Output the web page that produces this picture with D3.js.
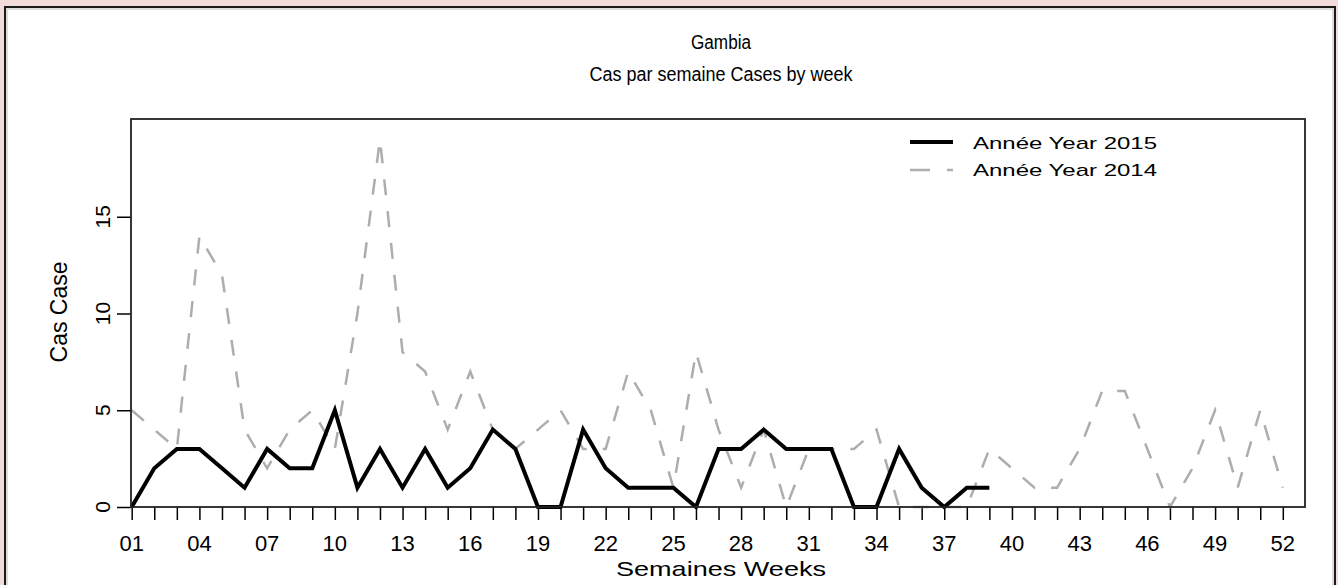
<!DOCTYPE html>
<html>
<head>
<meta charset="utf-8">
<script src="https://cdn.jsdelivr.net/npm/d3@7"></script>
<style>
  html, body { margin: 0; padding: 0; background: #f2dcdb; }
  svg { display: block; }
  text { font-family: "Liberation Sans", Arial, sans-serif; fill: #000; }
</style>
</head>
<body>
<svg id="chart" width="1338" height="585"></svg>
<script>
// ---- data ----
const weeks = [1,2,3,4,5,6,7,8,9,10,11,12,13,14,15,16,17,18,19,20,21,22,23,24,25,26,
               27,28,29,30,31,32,33,34,35,36,37,38,39,40,41,42,43,44,45,46,47,48,49,50,51,52];
const tickWeeks = [1,4,7,10,13,16,19,22,25,28,31,34,37,40,43,46,49,52];
const tickLabels = ["01","04","07","10","13","16","19","22","25","28","31","34","37","40","43","46","49","52"];
const yTicks = [0,5,10,15];
const cases2015 = [0,2,3,3,2,1,3,2,2,5,1,3,1,3,1,2,4,3,0,0,4,2,1,1,1,0,3,3,4,3,3,3,0,0,3,1,0,1,1];
const cases2014 = [5,4,3,14,12,4,2,4,5,3,10,19,8,7,4,7,4,3,4,5,3,3,7,5,1,8,4,1,4,0,3,3,3,4,0,0,0,0,3,2,1,1,3,6,6,3,0,2,5,1,5,1];
const seriesNames = ["Année Year 2015", "Année Year 2014"];
const titleText = "Gambia";
const subtitleText = "Cas par semaine Cases by week";
const xTitle = "Semaines Weeks";
const yTitle = "Cas Case";

// ---- layout ----
const svg = d3.select("#chart");
const box = {left: 131, top: 119, right: 1305, bottom: 507};

// outer white frame
svg.append("rect").attr("x", 5).attr("y", 7).attr("width", 1330).attr("height", 600)
  .attr("fill", "#fff").attr("stroke", "#1a1a1a").attr("stroke-width", 2);
svg.append("rect").attr("x", 7).attr("y", 9).attr("width", 1326).attr("height", 600)
  .attr("fill", "none").attr("stroke", "#bbb").attr("stroke-width", 1);

const x = d3.scaleLinear().domain([1, 52]).range([131.7, 1282.8]);
const y = d3.scaleLinear().domain([0, 20]).range([507, 120]);

// titles
svg.append("text").attr("x", 721).attr("y", 49).attr("text-anchor", "middle")
  .style("font-size", "20px").attr("textLength", 60).attr("lengthAdjust", "spacingAndGlyphs")
  .text(titleText);
svg.append("text").attr("x", 721).attr("y", 81).attr("text-anchor", "middle")
  .style("font-size", "20px").attr("textLength", 263).attr("lengthAdjust", "spacingAndGlyphs")
  .text(subtitleText);

// x axis
const xAxis = d3.axisBottom(x).tickValues(weeks).tickSize(13).tickFormat("");
const gx = svg.append("g").attr("transform", `translate(0,${box.bottom})`).call(xAxis);
gx.select(".domain").remove();
gx.selectAll(".tick line").attr("stroke", "#000").attr("stroke-width", 1.5);
svg.append("g").selectAll("text").data(tickWeeks).join("text")
  .attr("x", (d) => x(d)).attr("y", 551).attr("text-anchor", "middle")
  .style("font-size", "22px").text((d, i) => tickLabels[i]);

// y axis
const yAxis = d3.axisLeft(y).tickValues(yTicks).tickSize(14).tickFormat("");
const gy = svg.append("g").attr("transform", `translate(${box.left},0)`).call(yAxis);
gy.select(".domain").remove();
gy.selectAll(".tick line").attr("stroke", "#000").attr("stroke-width", 1.5);
svg.append("g").selectAll("text").data(yTicks).join("text")
  .attr("transform", (d) => `translate(110,${y(d)}) rotate(-90)`)
  .attr("text-anchor", "middle").style("font-size", "21px").text((d) => d);

// axis titles
svg.append("text").attr("x", 721).attr("y", 576).attr("text-anchor", "middle")
  .style("font-size", "21px").attr("textLength", 210).attr("lengthAdjust", "spacingAndGlyphs")
  .text(xTitle);
svg.append("text").attr("transform", "translate(67,312) rotate(-90)")
  .attr("text-anchor", "middle").style("font-size", "23px").text(yTitle);

// lines
const line = d3.line().x((d, i) => x(weeks[i])).y((d) => y(d));
svg.append("path").datum(cases2014).attr("d", line).attr("fill", "none")
  .attr("stroke", "#adadad").attr("stroke-width", 2.5).attr("stroke-dasharray", "16,16");
svg.append("path").datum(cases2015).attr("d", line).attr("fill", "none")
  .attr("stroke", "#000").attr("stroke-width", 4).attr("stroke-linejoin", "miter");

// plot box
svg.append("rect").attr("x", box.left).attr("y", box.top)
  .attr("width", box.right - box.left).attr("height", box.bottom - box.top)
  .attr("fill", "none").attr("stroke", "#222").attr("stroke-width", 1.8);

// legend
const leg = svg.append("g");
leg.append("line").attr("x1", 910).attr("x2", 953).attr("y1", 142).attr("y2", 142)
  .attr("stroke", "#000").attr("stroke-width", 4);
leg.append("line").attr("x1", 910).attr("x2", 953).attr("y1", 170).attr("y2", 170)
  .attr("stroke", "#adadad").attr("stroke-width", 2.5).attr("stroke-dasharray", "20,17");
leg.append("text").attr("x", 973).attr("y", 149).style("font-size", "17px")
  .attr("textLength", 184).attr("lengthAdjust", "spacingAndGlyphs").text(seriesNames[0]);
leg.append("text").attr("x", 973).attr("y", 176).style("font-size", "17px")
  .attr("textLength", 184).attr("lengthAdjust", "spacingAndGlyphs").text(seriesNames[1]);
</script>
</body>
</html>
